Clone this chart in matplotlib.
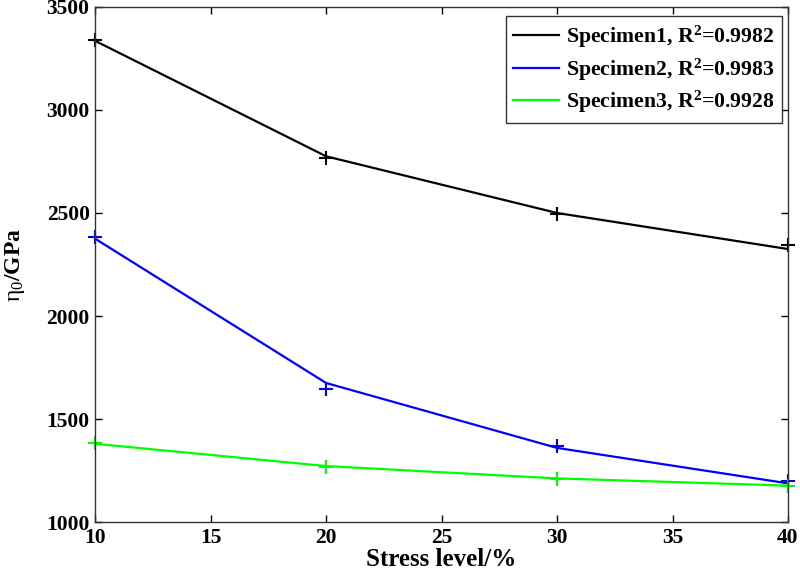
import matplotlib
matplotlib.use("Agg")
import matplotlib.pyplot as plt

plt.rcParams['font.family'] = ['Liberation Serif', 'DejaVu Serif']
plt.rcParams['mathtext.fontset'] = 'custom'
plt.rcParams['mathtext.rm'] = 'Liberation Serif'
plt.rcParams['mathtext.bf'] = 'Liberation Serif:bold'
plt.rcParams['mathtext.it'] = 'Liberation Serif:italic'

stress = [10, 20, 30, 40]
labels = ['Specimen1, R$^\\mathbf{2}$=0.9982',
          'Specimen2, R$^\\mathbf{2}$=0.9983',
          'Specimen3, R$^\\mathbf{2}$=0.9928']
colors = ['#000000', '#0000ff', '#00ff00']
measured = [
    [3340, 2767, 2497, 2345],
    [2385, 1645, 1370, 1200],
    [1383, 1267, 1210, 1175],
]
fitted = [
    [3335, 2775, 2500, 2325],
    [2375, 1675, 1360, 1188],
    [1380, 1272, 1212, 1177],
]

fig = plt.figure(figsize=(8, 5.75), dpi=100)
ax = fig.add_axes([0.119, 0.092, 0.866, 0.896])

for lab, c, m, f in zip(labels, colors, measured, fitted):
    ax.plot(stress, f, color=c, lw=1.6, label=lab)
    ax.plot(stress, m, color=c, ls='none', marker='+', ms=10, mew=1.5,
            clip_on=False)

ax.set_xlim(10, 40)
ax.set_ylim(1000, 3500)
ax.set_xticks([10, 15, 20, 25, 30, 35, 40])
ax.set_yticks([1000, 1500, 2000, 2500, 3000, 3500])
ax.tick_params(direction='in', top=True, right=True, length=5, width=1,
               labelsize=15.5)
ax.tick_params(axis='y', pad=4)
ax.tick_params(axis='x', pad=4)
for t in ax.get_xticklabels() + ax.get_yticklabels():
    t.set_fontweight('bold')
for s in ax.spines.values():
    s.set_linewidth(1)
    s.set_color('#333333')

ax.set_xlabel('Stress level/%', fontsize=18, fontweight='bold', labelpad=0)
ax.set_ylabel(r'$\mathrm{\eta_0}$/GPa', fontsize=17, fontweight='bold',
              labelpad=14)

leg = ax.legend(loc='upper right', fontsize=15.7, handlelength=2.1,
                fancybox=False, framealpha=1, edgecolor='#333333',
                bbox_to_anchor=(782 / 800, 1 - 16 / 575),
                bbox_transform=fig.transFigure,
                borderaxespad=0, labelspacing=0.3, handletextpad=0.3,
                borderpad=0.35)
leg.get_frame().set_linewidth(1)
for t in leg.get_texts():
    t.set_fontweight('bold')

fig.savefig('out.png', dpi=100)
